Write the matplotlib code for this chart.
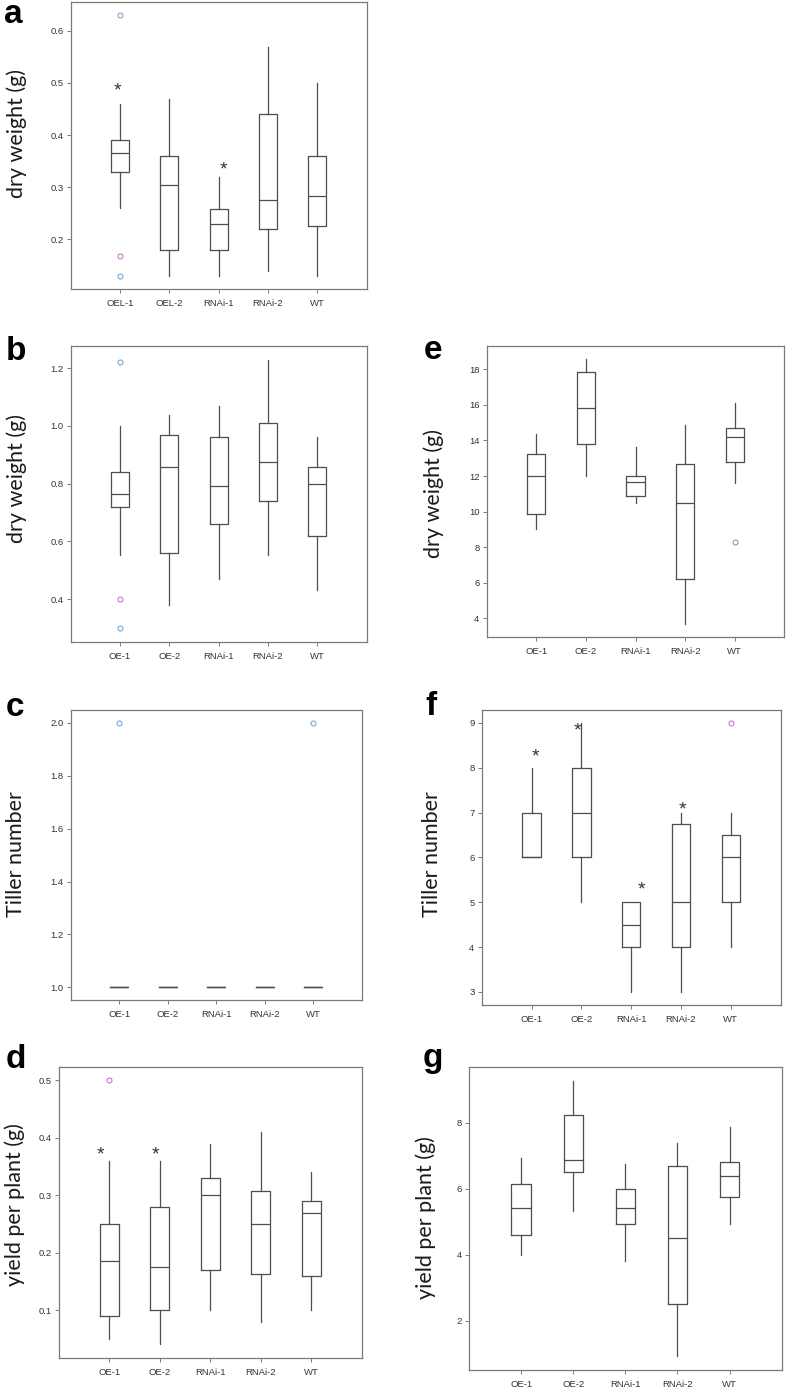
import matplotlib
matplotlib.use("Agg")
import matplotlib.pyplot as plt

# ---------------- data ----------------
labels_a = ["OEL-1", "OEL-2", "RNAi-1", "RNAi-2", "WT"]
labels_oe = ["OE-1", "OE-2", "RNAi-1", "RNAi-2", "WT"]

# each row: [whisker_low, q1, median, q3, whisker_high]
box_a = [[0.261, 0.330, 0.365, 0.390, 0.459],
         [0.130, 0.180, 0.305, 0.360, 0.469],
         [0.130, 0.180, 0.230, 0.259, 0.319],
         [0.140, 0.220, 0.275, 0.440, 0.569],
         [0.130, 0.225, 0.284, 0.360, 0.499]]
out_a = [(1, 0.630, "b"), (1, 0.169, "p"), (1, 0.130, "b")]
sig_a = [(0.95, 0.499), (3.1, 0.347)]

box_b = [[0.551, 0.720, 0.765, 0.839, 1.000],
         [0.381, 0.561, 0.857, 0.970, 1.039],
         [0.471, 0.661, 0.791, 0.960, 1.069],
         [0.551, 0.740, 0.875, 1.009, 1.229],
         [0.430, 0.620, 0.800, 0.859, 0.960]]
out_b = [(1, 1.221, "b"), (1, 0.400, "p"), (1, 0.300, "b")]
sig_b = []

box_c = [[1.0, 1.0, 1.0, 1.0, 1.0]] * 5
out_c = [(1, 2.0, "b"), (5, 2.0, "b")]
sig_c = []

box_d = [[0.050, 0.090, 0.185, 0.250, 0.360],
         [0.041, 0.100, 0.175, 0.280, 0.360],
         [0.100, 0.170, 0.300, 0.330, 0.390],
         [0.080, 0.163, 0.250, 0.308, 0.410],
         [0.100, 0.160, 0.270, 0.290, 0.340]]
out_d = [(1, 0.500, "p")]
sig_d = [(0.82, 0.383), (1.92, 0.383)]

box_e = [[9.00, 9.85, 11.98, 13.22, 14.38],
         [12.00, 13.78, 15.84, 17.87, 18.56],
         [10.50, 10.86, 11.68, 12.00, 13.63],
         [3.70, 6.19, 10.49, 12.70, 14.87],
         [11.61, 12.81, 14.18, 14.68, 16.11]]
out_e = [(5, 8.29, "p")]
sig_e = []

box_f = [[6.0, 6.0, 6.0, 7.0, 8.0],
         [5.0, 6.0, 7.0, 8.0, 9.0],
         [3.0, 4.0, 4.5, 5.0, 5.0],
         [3.0, 4.0, 5.0, 6.75, 7.0],
         [4.0, 5.0, 6.0, 6.49, 7.0]]
out_f = [(5, 9.0, "p")]
sig_f = [(1.07, 8.40), (1.92, 8.98), (3.2, 5.44), (4.03, 7.23)]

box_g = [[3.99, 4.59, 5.43, 6.14, 6.94],
         [5.33, 6.52, 6.86, 8.24, 9.26],
         [3.81, 4.94, 5.43, 6.00, 6.74],
         [0.93, 2.52, 4.50, 6.70, 7.38],
         [4.94, 5.76, 6.38, 6.82, 7.86]]
out_g = []
sig_g = []

yt_a = [0.2, 0.3, 0.4, 0.5, 0.6]
yt_b = [0.4, 0.6, 0.8, 1.0, 1.2]
yt_c = [1.0, 1.2, 1.4, 1.6, 1.8, 2.0]
yt_d = [0.1, 0.2, 0.3, 0.4, 0.5]
yt_e = [4, 6, 8, 10, 12, 14, 16, 18]
yt_f = [3, 4, 5, 6, 7, 8, 9]
yt_g = [2, 4, 6, 8]

ylab_dw = "dry weight (g)"
ylab_tn = "Tiller number"
ylab_yp = "yield per plant (g)"

# ---------------- style / layout ----------------
W, H = 787, 1392
DPI = 100
fig = plt.figure(figsize=(W / DPI, H / DPI), dpi=DPI)

BOX_C = "#4d4d4d"
FRAME_C = "#7a7a7a"
OUT_C = {"b": "#7fa8cc", "p": "#c77ac7"}
TICK_FONT = "Liberation Sans"
LAB_FONT = "Lato"


def px_axes(left, right, top, bottom):
    return fig.add_axes([left / W, (H - bottom) / H, (right - left) / W, (bottom - top) / H])


def fmt_tick(v, dec):
    return f"{v:.{dec}f}"


def panel(rect, boxes, outs, sigs, xlabels, yticks, ylim, dec, letter, letter_xy, ylab, ylab_xy):
    ax = px_axes(*rect)
    stats = []
    for row, lab in zip(boxes, xlabels):
        lo, q1, med, q3, hi = row
        stats.append(dict(whislo=lo, q1=q1, med=med, q3=q3, whishi=hi, fliers=[], label=lab))
    lw = 0.9
    ax.bxp(stats, positions=range(1, len(stats) + 1), widths=0.37, showfliers=False,
           showcaps=False,
           boxprops=dict(color=BOX_C, linewidth=lw),
           whiskerprops=dict(color=BOX_C, linewidth=lw),
           medianprops=dict(color=BOX_C, linewidth=lw))
    for ci, v, k in outs:
        ax.plot([ci], [v], linestyle="none", marker="o", markersize=3.6,
                markerfacecolor="none", markeredgecolor=OUT_C[k], markeredgewidth=0.8)
    for xs, ys in sigs:
        ax.annotate("*", xy=(xs, ys), xytext=(0, -8.5), textcoords="offset points",
                    ha="center", va="baseline", fontsize=14, color="#333333",
                    family=TICK_FONT)
    ax.set_xlim(0, len(stats) + 1)
    ax.set_ylim(*ylim)
    ax.set_yticks(yticks)
    ax.set_yticklabels([fmt_tick(v, dec) for v in yticks], family=TICK_FONT, fontsize=6.8,
                       color="#333333")
    ax.set_xticks(range(1, len(stats) + 1))
    ax.set_xticklabels(xlabels, family=TICK_FONT, fontsize=6.8, color="#333333")
    ax.tick_params(axis="both", direction="out", length=3.2, width=0.7, color=FRAME_C)
    ax.tick_params(axis="y", pad=2)
    ax.tick_params(axis="x", pad=4)
    for s in ax.spines.values():
        s.set_color(FRAME_C)
        s.set_linewidth(0.9)
    fig.text(letter_xy[0] / W, 1 - letter_xy[1] / H, letter, fontsize=24, fontweight="bold",
             family=TICK_FONT, ha="left", va="baseline")
    fig.text(ylab_xy[0] / W, 1 - ylab_xy[1] / H, ylab, rotation=90, fontsize=15.5,
             family=LAB_FONT, ha="center", va="center", color="#1a1a1a")
    return ax


panel((70.7, 366.7, 2, 289), box_a, out_a, sig_a, labels_a, yt_a, (0.105, 0.655), 1,
      "a", (4, 23), ylab_dw, (17, 133))
panel((70.7, 366.7, 346, 642.3), box_b, out_b, sig_b, labels_oe, yt_b, (0.25, 1.277), 1,
      "b", (6, 360), ylab_dw, (17, 479))
panel((70.7, 361.7, 710, 1000.3), box_c, out_c, sig_c, labels_oe, yt_c, (0.951, 2.049), 1,
      "c", (6, 716), ylab_tn, (16, 854))
panel((58.7, 361.7, 1066.7, 1358.3), box_d, out_d, sig_d, labels_oe, yt_d, (0.0165, 0.5237), 1,
      "d", (6, 1068), ylab_yp, (15, 1205))
panel((486.7, 784.3, 346, 636.7), box_e, out_e, sig_e, labels_oe, yt_e, (2.97, 19.31), 0,
      "e", (424, 359), ylab_dw, (434, 493))
panel((481.7, 780.7, 710, 1005.3), box_f, out_f, sig_f, labels_oe, yt_f, (2.70, 9.29), 0,
      "f", (425, 715), ylab_tn, (432, 854))
panel((469, 781.7, 1067.3, 1370), box_g, out_g, sig_g, labels_oe, yt_g, (0.51, 9.68), 0,
      "g", (423, 1067), ylab_yp, (426, 1218))

fig.savefig("out.png", dpi=DPI, facecolor="white")
